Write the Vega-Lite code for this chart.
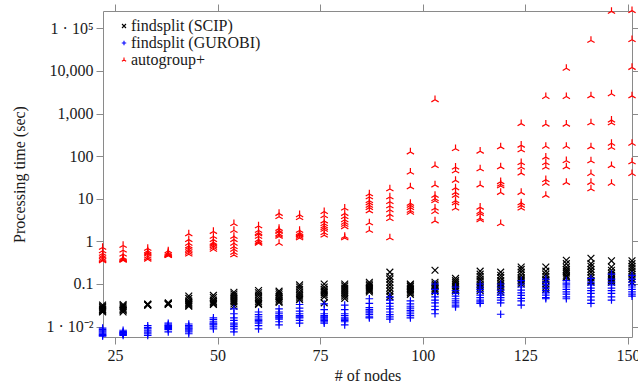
{
  "$schema": "https://vega.github.io/schema/vega-lite/v6.json",
  "width": 529,
  "height": 326,
  "autosize": {"type": "none"},
  "padding": {"left": 103, "top": 11, "right": 6, "bottom": 53},
  "background": "white",
  "config": {
    "view": {"stroke": null},
    "font": "Liberation Serif",
    "axis": {
      "domainColor": "#8a8a8a", "tickColor": "#8a8a8a", "tickSize": 7, "tickWidth": 1, "domainWidth": 1,
      "grid": false, "labelFont": "Liberation Serif", "labelFontSize": 16, "labelColor": "#1a1a1a",
      "titleFont": "Liberation Serif", "titleFontSize": 16, "titleFontWeight": "normal", "titleColor": "#1a1a1a",
      "labelPadding": 3
    }
  },
  "data": {"values": [
    {"n":22,"s":"A","t":0.72},{"n":22,"s":"A","t":0.6},{"n":22,"s":"A","t":0.52},{"n":22,"s":"A","t":0.47},{"n":22,"s":"A","t":0.44},{"n":22,"s":"A","t":0.4},{"n":22,"s":"A","t":0.37},{"n":22,"s":"A","t":0.35},
    {"n":27,"s":"A","t":0.8},{"n":27,"s":"A","t":0.62},{"n":27,"s":"A","t":0.5},{"n":27,"s":"A","t":0.42},{"n":27,"s":"A","t":0.4},{"n":27,"s":"A","t":0.38},{"n":27,"s":"A","t":0.37},{"n":27,"s":"A","t":0.36},
    {"n":33,"s":"A","t":0.68},{"n":33,"s":"A","t":0.6},{"n":33,"s":"A","t":0.56},{"n":33,"s":"A","t":0.53},{"n":33,"s":"A","t":0.5},{"n":33,"s":"A","t":0.45},{"n":33,"s":"A","t":0.41},{"n":33,"s":"A","t":0.38},
    {"n":38,"s":"A","t":0.6},{"n":38,"s":"A","t":0.55},{"n":38,"s":"A","t":0.52},{"n":38,"s":"A","t":0.5},{"n":38,"s":"A","t":0.49},{"n":38,"s":"A","t":0.48},{"n":38,"s":"A","t":0.47},{"n":38,"s":"A","t":0.46},
    {"n":43,"s":"A","t":1.5},{"n":43,"s":"A","t":1.1},{"n":43,"s":"A","t":0.9},{"n":43,"s":"A","t":0.78},{"n":43,"s":"A","t":0.72},{"n":43,"s":"A","t":0.65},{"n":43,"s":"A","t":0.6},{"n":43,"s":"A","t":0.55},{"n":43,"s":"A","t":0.5},
    {"n":49,"s":"A","t":1.7},{"n":49,"s":"A","t":1.3},{"n":49,"s":"A","t":1.1},{"n":49,"s":"A","t":0.95},{"n":49,"s":"A","t":0.9},{"n":49,"s":"A","t":0.85},{"n":49,"s":"A","t":0.78},{"n":49,"s":"A","t":0.72},{"n":49,"s":"A","t":0.65},
    {"n":54,"s":"A","t":2.6},{"n":54,"s":"A","t":1.8},{"n":54,"s":"A","t":1.3},{"n":54,"s":"A","t":1.1},{"n":54,"s":"A","t":0.9},{"n":54,"s":"A","t":0.75},{"n":54,"s":"A","t":0.65},{"n":54,"s":"A","t":0.55},{"n":54,"s":"A","t":0.48},
    {"n":60,"s":"A","t":2.3},{"n":60,"s":"A","t":1.8},{"n":60,"s":"A","t":1.6},{"n":60,"s":"A","t":1.5},{"n":60,"s":"A","t":1.3},{"n":60,"s":"A","t":1.1},{"n":60,"s":"A","t":1.0},{"n":60,"s":"A","t":0.95},{"n":60,"s":"A","t":0.9},
    {"n":65,"s":"A","t":4.5},{"n":65,"s":"A","t":3.8},{"n":65,"s":"A","t":2.0},{"n":65,"s":"A","t":1.8},{"n":65,"s":"A","t":1.7},{"n":65,"s":"A","t":1.5},{"n":65,"s":"A","t":1.4},{"n":65,"s":"A","t":1.3},{"n":65,"s":"A","t":0.9},
    {"n":70,"s":"A","t":4.2},{"n":70,"s":"A","t":3.6},{"n":70,"s":"A","t":1.8},{"n":70,"s":"A","t":1.6},{"n":70,"s":"A","t":1.5},{"n":70,"s":"A","t":1.45},{"n":70,"s":"A","t":1.4},{"n":70,"s":"A","t":1.3},{"n":70,"s":"A","t":1.2},
    {"n":76,"s":"A","t":5.0},{"n":76,"s":"A","t":4.0},{"n":76,"s":"A","t":3.0},{"n":76,"s":"A","t":2.6},{"n":76,"s":"A","t":2.3},{"n":76,"s":"A","t":2.1},{"n":76,"s":"A","t":1.9},{"n":76,"s":"A","t":1.6},{"n":76,"s":"A","t":1.4},
    {"n":81,"s":"A","t":6.0},{"n":81,"s":"A","t":4.5},{"n":81,"s":"A","t":3.8},{"n":81,"s":"A","t":3.2},{"n":81,"s":"A","t":2.8},{"n":81,"s":"A","t":2.5},{"n":81,"s":"A","t":2.2},{"n":81,"s":"A","t":1.3},{"n":81,"s":"A","t":1.2},
    {"n":87,"s":"A","t":13},{"n":87,"s":"A","t":11},{"n":87,"s":"A","t":9},{"n":87,"s":"A","t":8},{"n":87,"s":"A","t":7},{"n":87,"s":"A","t":6.2},{"n":87,"s":"A","t":5.2},{"n":87,"s":"A","t":2.7},{"n":87,"s":"A","t":1.8},
    {"n":92,"s":"A","t":17},{"n":92,"s":"A","t":11},{"n":92,"s":"A","t":8.5},{"n":92,"s":"A","t":6.8},{"n":92,"s":"A","t":5.5},{"n":92,"s":"A","t":4.3},{"n":92,"s":"A","t":3.4},{"n":92,"s":"A","t":1.2},
    {"n":97,"s":"A","t":125},{"n":97,"s":"A","t":42},{"n":97,"s":"A","t":19},{"n":97,"s":"A","t":7.8},{"n":97,"s":"A","t":7},{"n":97,"s":"A","t":6.2},{"n":97,"s":"A","t":5.3},{"n":97,"s":"A","t":4.8},
    {"n":103,"s":"A","t":2100},{"n":103,"s":"A","t":60},{"n":103,"s":"A","t":21},{"n":103,"s":"A","t":12},{"n":103,"s":"A","t":10},{"n":103,"s":"A","t":9},{"n":103,"s":"A","t":6},{"n":103,"s":"A","t":5},{"n":103,"s":"A","t":3},
    {"n":108,"s":"A","t":150},{"n":108,"s":"A","t":55},{"n":108,"s":"A","t":45},{"n":108,"s":"A","t":27},{"n":108,"s":"A","t":18},{"n":108,"s":"A","t":14},{"n":108,"s":"A","t":12},{"n":108,"s":"A","t":9},{"n":108,"s":"A","t":8},{"n":108,"s":"A","t":6},
    {"n":114,"s":"A","t":130},{"n":114,"s":"A","t":50},{"n":114,"s":"A","t":21},{"n":114,"s":"A","t":6.3},{"n":114,"s":"A","t":5},{"n":114,"s":"A","t":4.5},{"n":114,"s":"A","t":3.5},{"n":114,"s":"A","t":3.2},
    {"n":119,"s":"A","t":165},{"n":119,"s":"A","t":56},{"n":119,"s":"A","t":25},{"n":119,"s":"A","t":22},{"n":119,"s":"A","t":20},{"n":119,"s":"A","t":14},{"n":119,"s":"A","t":2.6},
    {"n":124,"s":"A","t":580},{"n":124,"s":"A","t":180},{"n":124,"s":"A","t":140},{"n":124,"s":"A","t":70},{"n":124,"s":"A","t":55},{"n":124,"s":"A","t":40},{"n":124,"s":"A","t":14},{"n":124,"s":"A","t":8},{"n":124,"s":"A","t":7},{"n":124,"s":"A","t":6},
    {"n":130,"s":"A","t":2500},{"n":130,"s":"A","t":560},{"n":130,"s":"A","t":170},{"n":130,"s":"A","t":95},{"n":130,"s":"A","t":70},{"n":130,"s":"A","t":55},{"n":130,"s":"A","t":28},{"n":130,"s":"A","t":23},{"n":130,"s":"A","t":12},
    {"n":135,"s":"A","t":11500},{"n":135,"s":"A","t":2500},{"n":135,"s":"A","t":560},{"n":135,"s":"A","t":170},{"n":135,"s":"A","t":78},{"n":135,"s":"A","t":56},{"n":135,"s":"A","t":24},
    {"n":141,"s":"A","t":52000},{"n":141,"s":"A","t":2600},{"n":141,"s":"A","t":600},{"n":141,"s":"A","t":165},{"n":141,"s":"A","t":77},{"n":141,"s":"A","t":39},{"n":141,"s":"A","t":24},{"n":141,"s":"A","t":17},
    {"n":146,"s":"A","t":250000},{"n":146,"s":"A","t":2900},{"n":146,"s":"A","t":700},{"n":146,"s":"A","t":600},{"n":146,"s":"A","t":200},{"n":146,"s":"A","t":160},{"n":146,"s":"A","t":60},{"n":146,"s":"A","t":23},
    {"n":151,"s":"A","t":260000},{"n":151,"s":"A","t":54000},{"n":151,"s":"A","t":12000},{"n":151,"s":"A","t":2600},{"n":151,"s":"A","t":200},{"n":151,"s":"A","t":73},{"n":151,"s":"A","t":39},

    {"n":22,"s":"S","t":0.032},{"n":22,"s":"S","t":0.03},{"n":22,"s":"S","t":0.028},{"n":22,"s":"S","t":0.026},{"n":22,"s":"S","t":0.025},{"n":22,"s":"S","t":0.024},{"n":22,"s":"S","t":0.023},{"n":22,"s":"S","t":0.022},
    {"n":27,"s":"S","t":0.033},{"n":27,"s":"S","t":0.031},{"n":27,"s":"S","t":0.029},{"n":27,"s":"S","t":0.027},{"n":27,"s":"S","t":0.025},{"n":27,"s":"S","t":0.024},{"n":27,"s":"S","t":0.022},
    {"n":33,"s":"S","t":0.034},{"n":33,"s":"S","t":0.033},{"n":33,"s":"S","t":0.033},{"n":33,"s":"S","t":0.032},{"n":33,"s":"S","t":0.032},
    {"n":38,"s":"S","t":0.036},{"n":38,"s":"S","t":0.035},{"n":38,"s":"S","t":0.034},{"n":38,"s":"S","t":0.034},{"n":38,"s":"S","t":0.033},
    {"n":43,"s":"S","t":0.052},{"n":43,"s":"S","t":0.046},{"n":43,"s":"S","t":0.04},{"n":43,"s":"S","t":0.037},{"n":43,"s":"S","t":0.035},{"n":43,"s":"S","t":0.033},{"n":43,"s":"S","t":0.031},{"n":43,"s":"S","t":0.03},
    {"n":49,"s":"S","t":0.054},{"n":49,"s":"S","t":0.048},{"n":49,"s":"S","t":0.042},{"n":49,"s":"S","t":0.039},{"n":49,"s":"S","t":0.036},{"n":49,"s":"S","t":0.034},{"n":49,"s":"S","t":0.033},
    {"n":54,"s":"S","t":0.064},{"n":54,"s":"S","t":0.058},{"n":54,"s":"S","t":0.052},{"n":54,"s":"S","t":0.047},{"n":54,"s":"S","t":0.042},{"n":54,"s":"S","t":0.038},{"n":54,"s":"S","t":0.034},{"n":54,"s":"S","t":0.03},
    {"n":60,"s":"S","t":0.07},{"n":60,"s":"S","t":0.062},{"n":60,"s":"S","t":0.055},{"n":60,"s":"S","t":0.048},{"n":60,"s":"S","t":0.042},{"n":60,"s":"S","t":0.038},{"n":60,"s":"S","t":0.035},{"n":60,"s":"S","t":0.033},
    {"n":65,"s":"S","t":0.068},{"n":65,"s":"S","t":0.062},{"n":65,"s":"S","t":0.056},{"n":65,"s":"S","t":0.05},{"n":65,"s":"S","t":0.046},{"n":65,"s":"S","t":0.042},{"n":65,"s":"S","t":0.039},{"n":65,"s":"S","t":0.037},
    {"n":70,"s":"S","t":0.095},{"n":70,"s":"S","t":0.085},{"n":70,"s":"S","t":0.075},{"n":70,"s":"S","t":0.065},{"n":70,"s":"S","t":0.058},{"n":70,"s":"S","t":0.052},{"n":70,"s":"S","t":0.047},{"n":70,"s":"S","t":0.043},
    {"n":76,"s":"S","t":0.1},{"n":76,"s":"S","t":0.085},{"n":76,"s":"S","t":0.075},{"n":76,"s":"S","t":0.068},{"n":76,"s":"S","t":0.062},{"n":76,"s":"S","t":0.056},{"n":76,"s":"S","t":0.05},{"n":76,"s":"S","t":0.036},
    {"n":81,"s":"S","t":0.1},{"n":81,"s":"S","t":0.09},{"n":81,"s":"S","t":0.08},{"n":81,"s":"S","t":0.072},{"n":81,"s":"S","t":0.065},{"n":81,"s":"S","t":0.058},{"n":81,"s":"S","t":0.052},{"n":81,"s":"S","t":0.046},
    {"n":87,"s":"S","t":0.11},{"n":87,"s":"S","t":0.1},{"n":87,"s":"S","t":0.092},{"n":87,"s":"S","t":0.085},{"n":87,"s":"S","t":0.08},{"n":87,"s":"S","t":0.075},{"n":87,"s":"S","t":0.07},{"n":87,"s":"S","t":0.065},
    {"n":92,"s":"S","t":0.19},{"n":92,"s":"S","t":0.15},{"n":92,"s":"S","t":0.13},{"n":92,"s":"S","t":0.11},{"n":92,"s":"S","t":0.095},{"n":92,"s":"S","t":0.08},{"n":92,"s":"S","t":0.068},{"n":92,"s":"S","t":0.056},{"n":92,"s":"S","t":0.05},
    {"n":97,"s":"S","t":0.1},{"n":97,"s":"S","t":0.095},{"n":97,"s":"S","t":0.088},{"n":97,"s":"S","t":0.08},{"n":97,"s":"S","t":0.074},{"n":97,"s":"S","t":0.068},{"n":97,"s":"S","t":0.062},{"n":97,"s":"S","t":0.057},
    {"n":103,"s":"S","t":0.21},{"n":103,"s":"S","t":0.11},{"n":103,"s":"S","t":0.1},{"n":103,"s":"S","t":0.092},{"n":103,"s":"S","t":0.085},{"n":103,"s":"S","t":0.078},{"n":103,"s":"S","t":0.072},{"n":103,"s":"S","t":0.066},
    {"n":108,"s":"S","t":0.135},{"n":108,"s":"S","t":0.12},{"n":108,"s":"S","t":0.11},{"n":108,"s":"S","t":0.1},{"n":108,"s":"S","t":0.09},{"n":108,"s":"S","t":0.082},{"n":108,"s":"S","t":0.075},{"n":108,"s":"S","t":0.068},
    {"n":114,"s":"S","t":0.2},{"n":114,"s":"S","t":0.17},{"n":114,"s":"S","t":0.15},{"n":114,"s":"S","t":0.13},{"n":114,"s":"S","t":0.115},{"n":114,"s":"S","t":0.1},{"n":114,"s":"S","t":0.09},{"n":114,"s":"S","t":0.08},{"n":114,"s":"S","t":0.07},
    {"n":119,"s":"S","t":0.19},{"n":119,"s":"S","t":0.16},{"n":119,"s":"S","t":0.14},{"n":119,"s":"S","t":0.12},{"n":119,"s":"S","t":0.105},{"n":119,"s":"S","t":0.095},{"n":119,"s":"S","t":0.085},{"n":119,"s":"S","t":0.075},{"n":119,"s":"S","t":0.065},
    {"n":124,"s":"S","t":0.25},{"n":124,"s":"S","t":0.22},{"n":124,"s":"S","t":0.19},{"n":124,"s":"S","t":0.16},{"n":124,"s":"S","t":0.14},{"n":124,"s":"S","t":0.13},{"n":124,"s":"S","t":0.12},{"n":124,"s":"S","t":0.11},{"n":124,"s":"S","t":0.1},
    {"n":130,"s":"S","t":0.25},{"n":130,"s":"S","t":0.2},{"n":130,"s":"S","t":0.17},{"n":130,"s":"S","t":0.15},{"n":130,"s":"S","t":0.13},{"n":130,"s":"S","t":0.12},{"n":130,"s":"S","t":0.1},{"n":130,"s":"S","t":0.085},{"n":130,"s":"S","t":0.075},
    {"n":135,"s":"S","t":0.36},{"n":135,"s":"S","t":0.3},{"n":135,"s":"S","t":0.25},{"n":135,"s":"S","t":0.22},{"n":135,"s":"S","t":0.2},{"n":135,"s":"S","t":0.18},{"n":135,"s":"S","t":0.16},{"n":135,"s":"S","t":0.15},{"n":135,"s":"S","t":0.14},
    {"n":141,"s":"S","t":0.4},{"n":141,"s":"S","t":0.3},{"n":141,"s":"S","t":0.26},{"n":141,"s":"S","t":0.22},{"n":141,"s":"S","t":0.19},{"n":141,"s":"S","t":0.16},{"n":141,"s":"S","t":0.14},{"n":141,"s":"S","t":0.12},{"n":141,"s":"S","t":0.11},
    {"n":146,"s":"S","t":0.35},{"n":146,"s":"S","t":0.25},{"n":146,"s":"S","t":0.21},{"n":146,"s":"S","t":0.18},{"n":146,"s":"S","t":0.16},{"n":146,"s":"S","t":0.14},{"n":146,"s":"S","t":0.13},{"n":146,"s":"S","t":0.12},{"n":146,"s":"S","t":0.11},
    {"n":151,"s":"S","t":0.35},{"n":151,"s":"S","t":0.3},{"n":151,"s":"S","t":0.26},{"n":151,"s":"S","t":0.23},{"n":151,"s":"S","t":0.2},{"n":151,"s":"S","t":0.17},{"n":151,"s":"S","t":0.15},{"n":151,"s":"S","t":0.13},{"n":151,"s":"S","t":0.11},

    {"n":22,"s":"G","t":0.0092},{"n":22,"s":"G","t":0.0085},{"n":22,"s":"G","t":0.008},{"n":22,"s":"G","t":0.0075},{"n":22,"s":"G","t":0.007},{"n":22,"s":"G","t":0.0066},{"n":22,"s":"G","t":0.0062},{"n":22,"s":"G","t":0.006},
    {"n":27,"s":"G","t":0.0082},{"n":27,"s":"G","t":0.0076},{"n":27,"s":"G","t":0.0072},{"n":27,"s":"G","t":0.007},{"n":27,"s":"G","t":0.0068},{"n":27,"s":"G","t":0.0066},{"n":27,"s":"G","t":0.0062},
    {"n":33,"s":"G","t":0.0105},{"n":33,"s":"G","t":0.0095},{"n":33,"s":"G","t":0.0088},{"n":33,"s":"G","t":0.008},{"n":33,"s":"G","t":0.0074},{"n":33,"s":"G","t":0.0068},{"n":33,"s":"G","t":0.0062},
    {"n":38,"s":"G","t":0.012},{"n":38,"s":"G","t":0.011},{"n":38,"s":"G","t":0.0105},{"n":38,"s":"G","t":0.01},{"n":38,"s":"G","t":0.0095},{"n":38,"s":"G","t":0.009},{"n":38,"s":"G","t":0.0085},{"n":38,"s":"G","t":0.0075},
    {"n":43,"s":"G","t":0.0115},{"n":43,"s":"G","t":0.0105},{"n":43,"s":"G","t":0.0098},{"n":43,"s":"G","t":0.0092},{"n":43,"s":"G","t":0.0087},{"n":43,"s":"G","t":0.0082},{"n":43,"s":"G","t":0.0075},{"n":43,"s":"G","t":0.0068},
    {"n":49,"s":"G","t":0.016},{"n":49,"s":"G","t":0.0145},{"n":49,"s":"G","t":0.013},{"n":49,"s":"G","t":0.012},{"n":49,"s":"G","t":0.0115},{"n":49,"s":"G","t":0.011},{"n":49,"s":"G","t":0.0098},{"n":49,"s":"G","t":0.0088},
    {"n":54,"s":"G","t":0.026},{"n":54,"s":"G","t":0.02},{"n":54,"s":"G","t":0.016},{"n":54,"s":"G","t":0.014},{"n":54,"s":"G","t":0.012},{"n":54,"s":"G","t":0.011},{"n":54,"s":"G","t":0.01},{"n":54,"s":"G","t":0.0088},{"n":54,"s":"G","t":0.0075},
    {"n":60,"s":"G","t":0.022},{"n":60,"s":"G","t":0.019},{"n":60,"s":"G","t":0.017},{"n":60,"s":"G","t":0.015},{"n":60,"s":"G","t":0.014},{"n":60,"s":"G","t":0.013},{"n":60,"s":"G","t":0.012},{"n":60,"s":"G","t":0.0105},{"n":60,"s":"G","t":0.0088},
    {"n":65,"s":"G","t":0.026},{"n":65,"s":"G","t":0.022},{"n":65,"s":"G","t":0.02},{"n":65,"s":"G","t":0.018},{"n":65,"s":"G","t":0.017},{"n":65,"s":"G","t":0.016},{"n":65,"s":"G","t":0.015},{"n":65,"s":"G","t":0.013},{"n":65,"s":"G","t":0.011},
    {"n":70,"s":"G","t":0.033},{"n":70,"s":"G","t":0.027},{"n":70,"s":"G","t":0.023},{"n":70,"s":"G","t":0.02},{"n":70,"s":"G","t":0.018},{"n":70,"s":"G","t":0.017},{"n":70,"s":"G","t":0.016},{"n":70,"s":"G","t":0.014},{"n":70,"s":"G","t":0.012},
    {"n":76,"s":"G","t":0.034},{"n":76,"s":"G","t":0.025},{"n":76,"s":"G","t":0.02},{"n":76,"s":"G","t":0.018},{"n":76,"s":"G","t":0.017},{"n":76,"s":"G","t":0.016},{"n":76,"s":"G","t":0.015},{"n":76,"s":"G","t":0.014},{"n":76,"s":"G","t":0.013},{"n":76,"s":"G","t":0.012},
    {"n":81,"s":"G","t":0.032},{"n":81,"s":"G","t":0.025},{"n":81,"s":"G","t":0.02},{"n":81,"s":"G","t":0.018},{"n":81,"s":"G","t":0.016},{"n":81,"s":"G","t":0.015},{"n":81,"s":"G","t":0.014},{"n":81,"s":"G","t":0.013},{"n":81,"s":"G","t":0.011},
    {"n":87,"s":"G","t":0.045},{"n":87,"s":"G","t":0.035},{"n":87,"s":"G","t":0.028},{"n":87,"s":"G","t":0.025},{"n":87,"s":"G","t":0.023},{"n":87,"s":"G","t":0.021},{"n":87,"s":"G","t":0.019},{"n":87,"s":"G","t":0.017},{"n":87,"s":"G","t":0.016},
    {"n":92,"s":"G","t":0.05},{"n":92,"s":"G","t":0.042},{"n":92,"s":"G","t":0.035},{"n":92,"s":"G","t":0.03},{"n":92,"s":"G","t":0.026},{"n":92,"s":"G","t":0.022},{"n":92,"s":"G","t":0.019},{"n":92,"s":"G","t":0.017},{"n":92,"s":"G","t":0.015},
    {"n":97,"s":"G","t":0.04},{"n":97,"s":"G","t":0.034},{"n":97,"s":"G","t":0.03},{"n":97,"s":"G","t":0.027},{"n":97,"s":"G","t":0.024},{"n":97,"s":"G","t":0.022},{"n":97,"s":"G","t":0.02},{"n":97,"s":"G","t":0.018},{"n":97,"s":"G","t":0.016},
    {"n":103,"s":"G","t":0.1},{"n":103,"s":"G","t":0.075},{"n":103,"s":"G","t":0.06},{"n":103,"s":"G","t":0.05},{"n":103,"s":"G","t":0.042},{"n":103,"s":"G","t":0.036},{"n":103,"s":"G","t":0.03},{"n":103,"s":"G","t":0.025},{"n":103,"s":"G","t":0.02},
    {"n":108,"s":"G","t":0.085},{"n":108,"s":"G","t":0.07},{"n":108,"s":"G","t":0.06},{"n":108,"s":"G","t":0.052},{"n":108,"s":"G","t":0.045},{"n":108,"s":"G","t":0.04},{"n":108,"s":"G","t":0.036},{"n":108,"s":"G","t":0.032},{"n":108,"s":"G","t":0.029},
    {"n":114,"s":"G","t":0.1},{"n":114,"s":"G","t":0.085},{"n":114,"s":"G","t":0.075},{"n":114,"s":"G","t":0.065},{"n":114,"s":"G","t":0.055},{"n":114,"s":"G","t":0.048},{"n":114,"s":"G","t":0.042},{"n":114,"s":"G","t":0.038},{"n":114,"s":"G","t":0.035},
    {"n":119,"s":"G","t":0.1},{"n":119,"s":"G","t":0.085},{"n":119,"s":"G","t":0.072},{"n":119,"s":"G","t":0.062},{"n":119,"s":"G","t":0.055},{"n":119,"s":"G","t":0.048},{"n":119,"s":"G","t":0.042},{"n":119,"s":"G","t":0.036},{"n":119,"s":"G","t":0.0195},
    {"n":124,"s":"G","t":0.12},{"n":124,"s":"G","t":0.1},{"n":124,"s":"G","t":0.085},{"n":124,"s":"G","t":0.072},{"n":124,"s":"G","t":0.062},{"n":124,"s":"G","t":0.054},{"n":124,"s":"G","t":0.046},{"n":124,"s":"G","t":0.04},{"n":124,"s":"G","t":0.032},
    {"n":130,"s":"G","t":0.13},{"n":130,"s":"G","t":0.11},{"n":130,"s":"G","t":0.095},{"n":130,"s":"G","t":0.08},{"n":130,"s":"G","t":0.07},{"n":130,"s":"G","t":0.062},{"n":130,"s":"G","t":0.055},{"n":130,"s":"G","t":0.048},{"n":130,"s":"G","t":0.045},
    {"n":135,"s":"G","t":0.12},{"n":135,"s":"G","t":0.105},{"n":135,"s":"G","t":0.095},{"n":135,"s":"G","t":0.085},{"n":135,"s":"G","t":0.075},{"n":135,"s":"G","t":0.065},{"n":135,"s":"G","t":0.058},{"n":135,"s":"G","t":0.05},{"n":135,"s":"G","t":0.045},
    {"n":141,"s":"G","t":0.135},{"n":141,"s":"G","t":0.11},{"n":141,"s":"G","t":0.095},{"n":141,"s":"G","t":0.08},{"n":141,"s":"G","t":0.07},{"n":141,"s":"G","t":0.06},{"n":141,"s":"G","t":0.05},{"n":141,"s":"G","t":0.042},{"n":141,"s":"G","t":0.035},
    {"n":146,"s":"G","t":0.17},{"n":146,"s":"G","t":0.13},{"n":146,"s":"G","t":0.11},{"n":146,"s":"G","t":0.095},{"n":146,"s":"G","t":0.08},{"n":146,"s":"G","t":0.07},{"n":146,"s":"G","t":0.06},{"n":146,"s":"G","t":0.05},{"n":146,"s":"G","t":0.042},
    {"n":151,"s":"G","t":0.16},{"n":151,"s":"G","t":0.13},{"n":151,"s":"G","t":0.11},{"n":151,"s":"G","t":0.095},{"n":151,"s":"G","t":0.085},{"n":151,"s":"G","t":0.075},{"n":151,"s":"G","t":0.065},{"n":151,"s":"G","t":0.058},{"n":151,"s":"G","t":0.052}
  ]},
  "resolve": {"axis": {"x": "independent", "y": "independent"}},
  "layer": [
    {
      "mark": {"type": "point", "filled": false, "strokeWidth": 1.2, "opacity": 1, "size": 64},
      "encoding": {
        "x": {"field": "n", "type": "quantitative",
          "scale": {"domain": [22.1, 151], "nice": false, "zero": false},
          "axis": {"orient": "bottom", "values": [25, 50, 75, 100, 125, 150], "title": "# of nodes", "titlePadding": 4, "labelPadding": 3}},
        "y": {"field": "t", "type": "quantitative",
          "scale": {"type": "log", "domain": [0.0057, 255000], "nice": false},
          "axis": {"orient": "left", "values": [0.01, 0.1, 1, 10, 100, 1000, 10000, 100000],
            "labelExpr": "datum.value == 100000 ? '1 · 10⁵' : datum.value == 0.01 ? '1 · 10⁻²' : format(datum.value, ',')",
            "title": "Processing time (sec)", "titlePadding": 18}},
        "color": {"field": "s", "type": "nominal",
          "scale": {"domain": ["S", "G", "A"], "range": ["#000000", "#0000ff", "#ff0000"]},
          "legend": {"orient": "none", "legendX": 13, "legendY": 7, "title": null, "padding": 0,
            "labelExpr": "datum.value == 'S' ? 'findsplit (SCIP)' : datum.value == 'G' ? 'findsplit (GUROBI)' : 'autogroup+'",
            "labelFont": "Liberation Serif", "labelFontSize": 16, "labelColor": "#1a1a1a", "labelOffset": -1,
            "rowPadding": 1, "symbolSize": 22, "symbolStrokeWidth": 1.1, "symbolFillColor": "transparent"}},
        "shape": {"field": "s", "type": "nominal",
          "scale": {"domain": ["S", "G", "A"], "range": ["M-0.85,-0.85L0.85,0.85M-0.85,0.85L0.85,-0.85", "M-0.95,0L0.95,0M0,-0.95L0,0.95", "M0,0L0,-1.05M0,0L-0.91,0.52M0,0L0.91,0.52"]}}
      }
    },
    {
      "mark": {"type": "point", "opacity": 0},
      "encoding": {
        "x": {"field": "n", "type": "quantitative",
          "axis": {"orient": "top", "values": [25, 50, 75, 100, 125, 150], "labels": false, "title": null}},
        "y": {"field": "t", "type": "quantitative",
          "axis": {"orient": "right", "values": [0.01, 0.1, 1, 10, 100, 1000, 10000, 100000], "labels": false, "title": null}}
      }
    }
  ]
}
